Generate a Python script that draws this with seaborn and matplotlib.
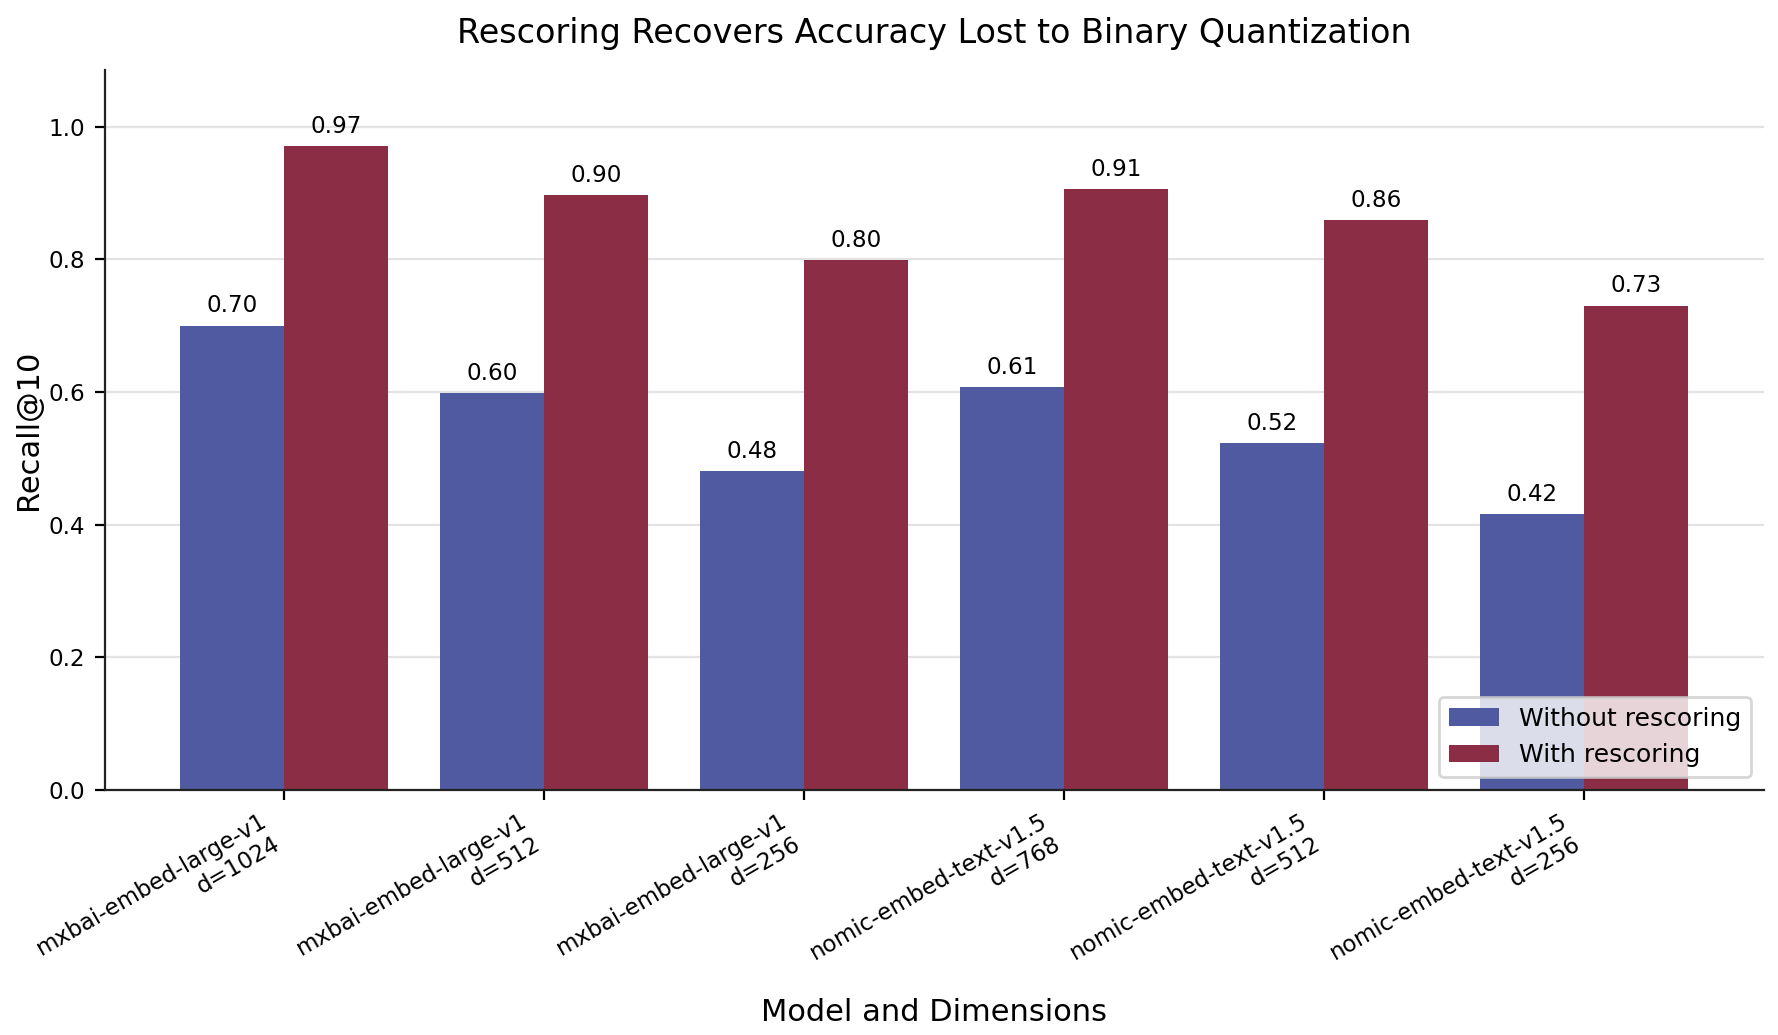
import pandas as pd
import matplotlib
matplotlib.use("Agg")
import matplotlib.pyplot as plt
import seaborn as sns

models = ["mxbai-embed-large-v1\nd=1024", "mxbai-embed-large-v1\nd=512",
          "mxbai-embed-large-v1\nd=256", "nomic-embed-text-v1.5\nd=768",
          "nomic-embed-text-v1.5\nd=512", "nomic-embed-text-v1.5\nd=256"]
without_rescoring = [0.700, 0.598, 0.480, 0.607, 0.523, 0.416]
with_rescoring = [0.971, 0.897, 0.799, 0.906, 0.859, 0.730]

df = pd.DataFrame({
    "model": models * 2,
    "recall": without_rescoring + with_rescoring,
    "method": ["Without rescoring"] * 6 + ["With rescoring"] * 6,
})

sns.set_style("white", {"text.color": "black", "xtick.color": "black",
                        "ytick.color": "black", "axes.labelcolor": "black",
                        "axes.edgecolor": "#222222"})
fig, ax = plt.subplots(figsize=(8.89, 5.175), dpi=200)
sns.barplot(data=df, x="model", y="recall", hue="method",
            palette=["#4f5aa0", "#8b2e45"], saturation=1, width=0.8,
            linewidth=0, ax=ax)

for c in ax.containers:
    ax.bar_label(c, fmt="%.2f", padding=3, fontsize=8.3)

ax.set_xlim(-0.69, 5.69)
ax.set_ylim(0, 1.085)
ax.yaxis.grid(True, color="#e3e3e3", linewidth=0.8)
ax.set_axisbelow(True)
sns.despine(ax=ax)
ax.tick_params(axis="both", length=3.5, labelsize=8.3, left=True, bottom=True)
plt.setp(ax.get_xticklabels(), rotation=30, ha="right")

ax.set_title("Rescoring Recovers Accuracy Lost to Binary Quantization", fontsize=12, pad=10)
ax.set_xlabel("Model and Dimensions", fontsize=11, labelpad=4)
ax.set_ylabel("Recall@10", fontsize=11, labelpad=2)
ax.legend(loc="lower right", fontsize=9, title=None, framealpha=0.8)

plt.subplots_adjust(left=0.059, right=0.992, top=0.932, bottom=0.237)
plt.savefig("out.png", dpi=200)
